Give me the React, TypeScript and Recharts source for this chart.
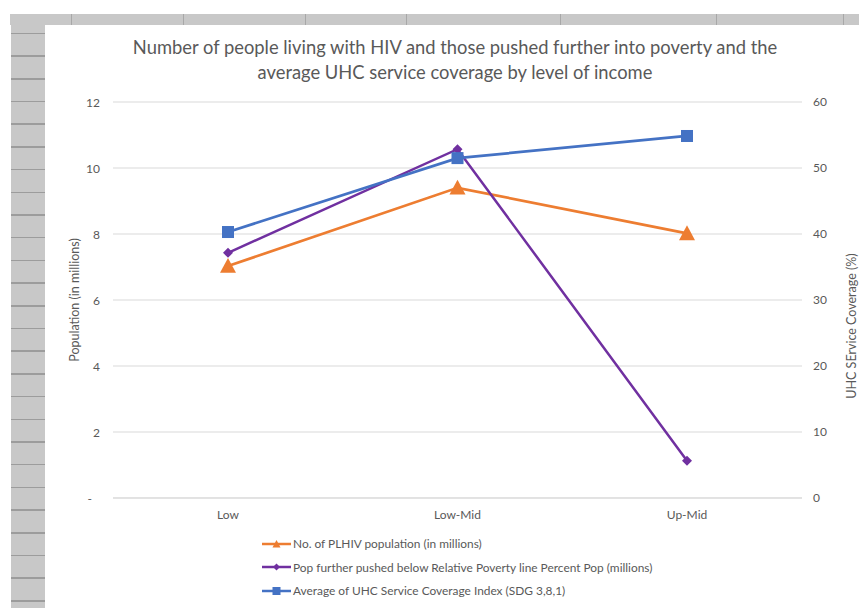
import React from 'react'
import { LineChart, Line, XAxis, YAxis, CartesianGrid, Label } from 'recharts'

// income groups on the category axis
const LEVELS = ['Low', 'Low-Mid', 'Up-Mid']

// left axis, millions of people
const PLHIV = [7.03, 9.4, 8.02]
const POVERTY = [7.43, 10.57, 1.13]

// right axis, UHC service coverage index (%)
const UHC = [40.3, 51.5, 54.85]

const LEFT_TICKS = [0, 2, 4, 6, 8, 10, 12]
const RIGHT_TICKS = [0, 10, 20, 30, 40, 50, 60]

const TITLE_LINES = [
  'Number of people living with HIV and those pushed further into poverty and the',
  'average UHC service coverage by level of income',
]

const FONT = 'Lato, "Open Sans", sans-serif'
const TEXT = '#595959'
const GRID = '#D9D9D9'

// spreadsheet frame behind the chart object
const HEADER_DIVIDERS = [71, 183, 305, 406, 560, 716, 843]
const ROW_LINES = Array.from({ length: 26 }, (_, i) => 32.6 + i * 22.7)

type Shape = 'triangle' | 'diamond' | 'square'

const SERIES: {
  key: string
  name: string
  color: string
  shape: Shape
  axis: 'left' | 'right'
  size: number
  width: number
}[] = [
  { key: 'plhiv', name: 'No. of PLHIV population (in millions)', color: '#ED7D31', shape: 'triangle', axis: 'left', size: 16, width: 2.75 },
  { key: 'poverty', name: 'Pop further pushed below Relative Poverty line Percent Pop (millions)', color: '#7030A0', shape: 'diamond', axis: 'left', size: 10, width: 2.5 },
  { key: 'uhc', name: 'Average of UHC Service Coverage Index (SDG 3,8,1)', color: '#4472C4', shape: 'square', axis: 'right', size: 12, width: 2.75 },
]

const data = LEVELS.map((level, i) => ({
  level,
  plhiv: PLHIV[i],
  poverty: POVERTY[i],
  uhc: UHC[i],
}))

function Marker({ shape, cx, cy, size, color }: { shape: Shape; cx: number; cy: number; size: number; color: string }) {
  const h = size / 2
  if (shape === 'triangle') {
    return <path d={`M${cx},${cy - h} L${cx + h},${cy + h * 0.85} L${cx - h},${cy + h * 0.85} Z`} fill={color} />
  }
  if (shape === 'diamond') {
    return <path d={`M${cx},${cy - h} L${cx + h},${cy} L${cx},${cy + h} L${cx - h},${cy} Z`} fill={color} />
  }
  return <rect x={cx - h} y={cy - h} width={size} height={size} fill={color} />
}

function LeftTick({ x, y, payload }: any) {
  const zero = payload.value === 0
  return (
    <text x={zero ? x - 8 : x} y={y} textAnchor="end" dominantBaseline="central" fill={TEXT} fontSize={12} fontFamily={FONT}>
      {zero ? '-' : payload.value}
    </text>
  )
}

function AxisTitle({ viewBox, text, dx, cyOffset }: any) {
  const x = viewBox.x + dx
  const y = viewBox.y + viewBox.height / 2 + cyOffset
  return (
    <text
      x={x}
      y={y}
      transform={`rotate(-90 ${x} ${y})`}
      textAnchor="middle"
      dominantBaseline="central"
      fill={TEXT}
      fontSize={12.5}
      fontFamily={FONT}
    >
      {text}
    </text>
  )
}

function SheetFrame() {
  return (
    <>
      <div style={{ position: 'absolute', left: 10, top: 14, width: 849, height: 11, background: '#C8C8C8' }}>
        {HEADER_DIVIDERS.map((x) => (
          <div key={x} style={{ position: 'absolute', left: x - 10, top: 0, width: 1, height: 11, background: '#A8A8A8' }} />
        ))}
      </div>
      <div style={{ position: 'absolute', left: 11, top: 14, width: 34, height: 594, background: '#C8C8C8', overflow: 'hidden' }}>
        {ROW_LINES.map((y) => (
          <div key={y} style={{ position: 'absolute', left: 0, top: y - 14, width: 34, height: 1.5, background: '#9C9C9C' }} />
        ))}
      </div>
    </>
  )
}

function LegendBox() {
  return (
    <div style={{ position: 'absolute', left: 262, top: 532, fontFamily: FONT, fontSize: 11.9, color: TEXT }}>
      {SERIES.map((s) => (
        <div key={s.key} style={{ display: 'flex', alignItems: 'center', height: 23.5 }}>
          <svg width={30} height={12} style={{ marginRight: 1 }}>
            <line x1={0} y1={6} x2={29} y2={6} stroke={s.color} strokeWidth={2.5} />
            <Marker shape={s.shape} cx={14.5} cy={6} size={s.shape === 'diamond' ? 7 : 8} color={s.color} />
          </svg>
          <span style={{ whiteSpace: 'nowrap' }}>{s.name}</span>
        </div>
      ))}
    </div>
  )
}

export default function App() {
  return (
    <div style={{ position: 'absolute', left: 0, top: 0, width: 859, height: 608, background: '#fff', overflow: 'hidden' }}>
      <SheetFrame />

      <div
        style={{
          position: 'absolute',
          left: 55,
          top: 35,
          width: 800,
          textAlign: 'center',
          fontFamily: FONT,
          fontSize: 18.35,
          lineHeight: '25px',
          color: TEXT,
        }}
      >
        {TITLE_LINES.map((line) => (
          <div key={line}>{line}</div>
        ))}
      </div>

      <div style={{ position: 'absolute', left: 0, top: 0 }}>
        <LineChart width={859} height={608} data={data} margin={{ top: 102, right: 17, bottom: 80, left: 63 }}>
          <CartesianGrid yAxisId="left" horizontal vertical={false} stroke={GRID} strokeWidth={1} />
          <XAxis
            dataKey="level"
            padding={{ left: 115, right: 115 }}
            axisLine={{ stroke: GRID }}
            tickLine={false}
            tickMargin={6}
            tick={{ fill: TEXT, fontSize: 12, fontFamily: FONT }}
            height={30}
          />
          <YAxis
            yAxisId="left"
            domain={[0, 12]}
            ticks={LEFT_TICKS}
            axisLine={false}
            tickLine={false}
            width={50}
            tick={<LeftTick />}
            tickMargin={7}
          >
            <Label content={(p: any) => <AxisTitle {...p} text="Population (in millions)" dx={11} cyOffset={0} />} />
          </YAxis>
          <YAxis
            yAxisId="right"
            orientation="right"
            domain={[0, 60]}
            ticks={RIGHT_TICKS}
            axisLine={false}
            tickLine={false}
            width={40}
            tickMargin={5}
            tick={{ fill: TEXT, fontSize: 12, fontFamily: FONT }}
          >
            <Label content={(p: any) => <AxisTitle {...p} text="UHC SErvice Coverage (%)" dx={49} cyOffset={26} />} />
          </YAxis>
          {SERIES.map((s) => (
            <Line
              key={s.key}
              yAxisId={s.axis}
              dataKey={s.key}
              name={s.name}
              type="linear"
              stroke={s.color}
              strokeWidth={s.width}
              isAnimationActive={false}
              dot={(p: any) => (
                <Marker key={`${s.key}-${p.index}`} shape={s.shape} cx={p.cx} cy={p.cy} size={s.size} color={s.color} />
              )}
              activeDot={false}
            />
          ))}
        </LineChart>
      </div>

      <LegendBox />
    </div>
  )
}
